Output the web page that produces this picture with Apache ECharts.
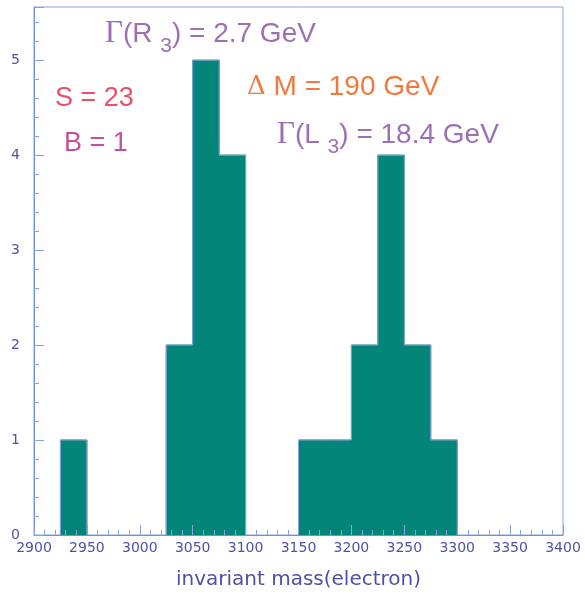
<!DOCTYPE html>
<html>
<head>
<meta charset="utf-8">
<script src="https://cdn.jsdelivr.net/npm/echarts@6/dist/echarts.min.js"></script>
<style>html,body{margin:0;padding:0;background:#fff;}#c{width:585px;height:596px;}</style>
</head>
<body>
<div id="c"></div>
<script>
// Histogram data: lower edges of non-empty bins (bin width 25) and counts
const binWidth = 25;
const binLow = [2925, 3025, 3050, 3075, 3150, 3175, 3200, 3225, 3250, 3275];
const counts = [1, 2, 5, 4, 1, 1, 2, 4, 2, 1];
const xTicks = [2900, 2950, 3000, 3050, 3100, 3150, 3200, 3250, 3300, 3350, 3400];
const yTicks = [0, 1, 2, 3, 4, 5];
const xTitle = 'invariant mass(electron)';

const teal = '#038679';
const edge = '#85a3dc';
const axisBlue = '#6f92da';
const labelColor = '#5050a4';
const purple = '#9d70b3';

const data = binLow.map((lo, i) => {
  const prevAdj = i > 0 && binLow[i - 1] + binWidth === lo;
  const nextAdj = i < binLow.length - 1 && lo + binWidth === binLow[i + 1];
  return [lo, lo + binWidth, counts[i], prevAdj ? counts[i - 1] : 0, nextAdj ? 1 : 0];
});

// text with segments (font, dy) placed by measured widths
const ctx = document.createElement('canvas').getContext('2d');
function segText(x, y, color, segs) {
  let cx = x;
  const out = [];
  segs.forEach(s => {
    const font = s.size + 'px "' + s.family + '"';
    ctx.font = font;
    out.push({type: 'text', x: cx, y: y + (s.dy || 0), z: 10,
      style: {text: s.t, fontFamily: s.family, fontSize: s.size, fill: color, verticalAlign: 'middle'}});
    cx += ctx.measureText(s.t).width;
  });
  return out;
}
const SANS = 'Liberation Sans', SERIF = 'Liberation Serif';

const graphics = [].concat(
  segText(105, 34, purple, [
    {t: 'Γ', family: SERIF, size: 31},
    {t: '(R ', family: SANS, size: 28},
    {t: '3', family: SANS, size: 21, dy: 12},
    {t: ') = 2.7 GeV', family: SANS, size: 28}
  ]),
  segText(247, 87, '#f07a3c', [
    {t: 'Δ', family: 'DejaVu Serif', size: 26},
    {t: ' M = 190 GeV', family: SANS, size: 28}
  ]),
  segText(277, 135, purple, [
    {t: 'Γ', family: SERIF, size: 31},
    {t: '(L ', family: SANS, size: 28},
    {t: '3', family: SANS, size: 21, dy: 12},
    {t: ') = 18.4 GeV', family: SANS, size: 28}
  ]),
  segText(55, 99, '#ea506c', [{t: 'S = 23', family: SANS, size: 27}]),
  segText(64, 144, '#c4509c', [{t: 'B = 1', family: SANS, size: 27}])
);

const chart = echarts.init(document.getElementById('c'), null, {renderer: 'canvas'});
chart.setOption({
  backgroundColor: '#fff',
  animation: false,
  grid: {left: 34, right: 22, top: 7, bottom: 61, show: true, borderColor: edge, borderWidth: 1, backgroundColor: 'transparent'},
  xAxis: {
    type: 'value', min: xTicks[0], max: xTicks[xTicks.length - 1], interval: 50, z: 5,
    axisLine: {show: true, onZero: false, lineStyle: {color: axisBlue, width: 1}},
    axisTick: {show: true, inside: true, length: 10, lineStyle: {color: edge}},
    minorTick: {show: true, splitNumber: 5, length: 5, lineStyle: {color: edge}},
    splitLine: {show: false},
    axisLabel: {color: labelColor, fontSize: 14, fontFamily: 'DejaVu Sans', margin: 6, formatter: v => String(v)},
    name: xTitle, nameLocation: 'middle', nameGap: 35,
    nameTextStyle: {color: labelColor, fontSize: 20, fontFamily: 'DejaVu Sans'}
  },
  yAxis: {
    type: 'value', min: yTicks[0], max: 5.56, interval: 1, z: 5,
    axisLine: {show: true, onZero: false, lineStyle: {color: axisBlue, width: 1}},
    axisTick: {show: true, inside: true, length: 10, lineStyle: {color: edge}},
    minorTick: {show: true, splitNumber: 5, length: 5, lineStyle: {color: edge}},
    splitLine: {show: false},
    axisLabel: {color: labelColor, fontSize: 14, fontFamily: 'DejaVu Sans', margin: 14, showMaxLabel: false,
      formatter: v => (yTicks.indexOf(v) >= 0 ? String(v) : '')}
  },
  series: [{
    type: 'custom',
    data: data,
    z: 2,
    renderItem: function (params, api) {
      const lo = api.value(0), hi = api.value(1), h = api.value(2);
      const p0 = api.coord([lo, 0]);
      const p1 = api.coord([hi, h]);
      return {type: 'rect', shape: {x: p0[0], y: p1[1], width: p1[0] - p0[0], height: p0[1] - p1[1]},
        style: {fill: teal, stroke: teal, lineWidth: 1}};
    }
  }, {
    type: 'custom',
    data: data,
    z: 3,
    renderItem: function (params, api) {
      const lo = api.value(0), hi = api.value(1), h = api.value(2), ph = api.value(3), nextAdj = api.value(4);
      const p0 = api.coord([lo, 0]);
      const p1 = api.coord([hi, h]);
      const lineStyle = {stroke: edge, lineWidth: 1, fill: null};
      const children = [
        {type: 'polyline', shape: {points: [[p0[0], p1[1]], [p1[0], p1[1]]]}, style: lineStyle},
        {type: 'polyline', shape: {points: [api.coord([lo, ph]), api.coord([lo, h])]}, style: lineStyle}
      ];
      if (!nextAdj) {
        children.push({type: 'polyline', shape: {points: [api.coord([hi, 0]), api.coord([hi, h])]}, style: lineStyle});
      }
      return {type: 'group', children: children};
    }
  }],
  graphic: graphics
});
</script>
</body>
</html>
